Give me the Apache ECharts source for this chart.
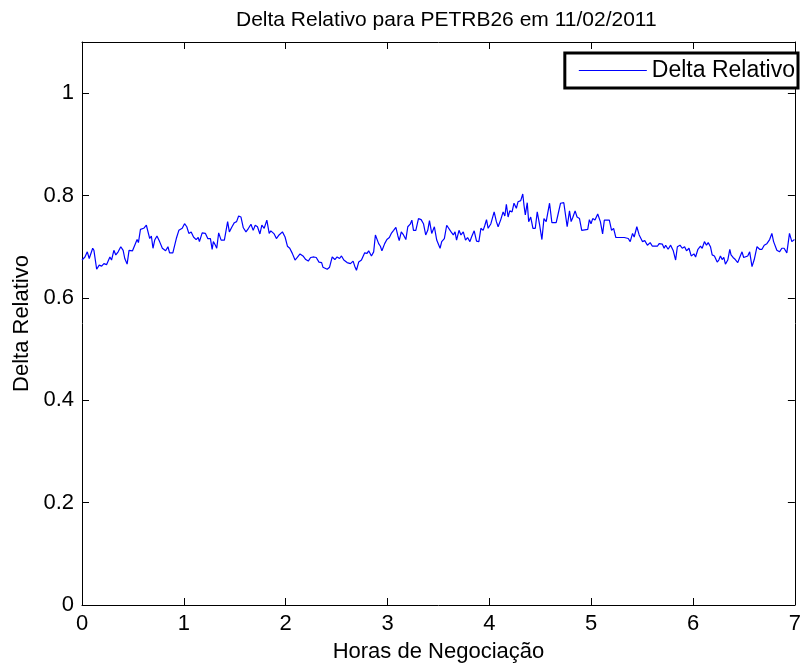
<!DOCTYPE html>
<html><head><meta charset="utf-8">
<script src="https://cdn.jsdelivr.net/npm/echarts@6/dist/echarts.min.js"></script>
<style>html,body{margin:0;padding:0;background:#fff}#c{width:804px;height:670px}</style>
</head><body><div id="c"></div>
<script>
const titleText = 'Delta Relativo para PETRB26 em 11/02/2011';
const xLabel = 'Horas de Negociação';
const yLabel = 'Delta Relativo';
const seriesName = 'Delta Relativo';
const hours = [0.000,0.029,0.052,0.071,0.105,0.117,0.144,0.169,0.193,0.215,0.241,0.274,0.290,0.313,0.332,0.355,0.381,0.404,0.420,0.443,0.462,0.496,0.518,0.541,0.554,0.574,0.606,0.632,0.648,0.665,0.681,0.697,0.714,0.736,0.762,0.789,0.821,0.844,0.860,0.892,0.926,0.951,0.984,1.007,1.029,1.049,1.072,1.095,1.121,1.141,
1.153,1.180,1.212,1.235,1.261,1.278,1.290,1.310,1.323,1.342,1.366,1.398,1.414,1.430,1.447,1.473,1.496,1.518,1.538,1.561,1.584,1.610,1.635,1.659,1.681,1.701,1.723,1.747,1.766,1.789,1.815,1.838,1.854,1.887,1.909,1.935,1.968,1.994,2.017,2.040,2.065,2.092,2.114,2.141,2.170,2.197,2.222,2.245,2.278,2.300,
2.327,2.353,2.366,2.385,2.408,2.431,2.457,2.483,2.505,2.529,2.548,2.571,2.603,2.636,2.662,2.678,2.695,2.717,2.744,2.776,2.799,2.815,2.842,2.864,2.881,2.896,2.913,2.930,2.945,2.972,2.994,3.018,3.037,3.060,3.082,3.102,3.115,3.135,3.157,3.180,3.199,3.223,3.239,3.255,3.278,3.304,3.330,3.353,3.375,3.395,3.412,3.434,3.460,3.483,
3.500,3.516,3.532,3.558,3.581,3.597,3.624,3.646,3.663,3.678,3.702,3.721,3.744,3.766,3.786,3.809,3.825,3.851,3.874,3.897,3.917,3.939,3.956,3.972,3.988,4.015,4.027,4.047,4.069,4.086,4.112,4.135,4.152,4.167,4.184,4.200,4.223,4.242,4.265,4.282,4.308,4.328,4.340,4.353,4.372,4.386,4.406,4.428,4.451,4.470,4.494,4.516,4.536,4.558,4.591,4.614,4.656,
4.673,4.699,4.731,4.764,4.787,4.803,4.819,4.842,4.861,4.885,4.907,4.966,4.982,4.998,5.015,5.037,5.064,5.090,5.112,5.129,5.178,5.200,5.220,5.242,5.325,5.364,5.383,5.406,5.422,5.448,5.471,5.503,5.526,5.552,5.579,5.601,5.650,5.667,5.699,5.716,5.731,5.755,5.780,5.806,5.829,
5.846,5.872,5.894,5.917,5.936,5.960,5.982,6.009,6.025,6.048,6.073,6.090,6.112,6.132,6.149,6.171,6.188,6.210,6.237,6.253,6.269,6.286,6.302,6.318,6.341,6.361,6.373,6.393,6.415,6.439,6.458,6.481,6.497,6.513,6.537,6.556,6.579,6.601,6.628,6.654,6.677,6.699,6.725,6.752,6.774,6.791,6.806,6.823,6.849,6.872,6.894,6.921,6.947,6.970,6.996];
const delta = [0.674,0.680,0.690,0.677,0.697,0.693,0.656,0.664,0.662,0.667,0.665,0.680,0.674,0.693,0.684,0.690,0.700,0.693,0.677,0.666,0.693,0.692,0.703,0.714,0.708,0.734,0.736,0.742,0.739,0.716,0.721,0.697,0.713,0.721,0.710,0.697,0.692,0.700,0.688,0.688,0.716,0.732,0.736,0.745,0.739,0.726,0.729,0.719,0.714,0.718,
0.710,0.727,0.726,0.716,0.716,0.695,0.710,0.703,0.697,0.727,0.713,0.713,0.714,0.749,0.729,0.739,0.747,0.749,0.760,0.758,0.737,0.729,0.736,0.744,0.732,0.742,0.739,0.725,0.742,0.736,0.752,0.726,0.731,0.725,0.716,0.723,0.729,0.719,0.701,0.697,0.687,0.674,0.679,0.686,0.682,0.675,0.672,0.679,0.680,0.679,
0.670,0.669,0.660,0.662,0.656,0.660,0.680,0.675,0.680,0.677,0.682,0.674,0.669,0.667,0.672,0.662,0.654,0.670,0.674,0.688,0.687,0.692,0.682,0.690,0.723,0.723,0.706,0.701,0.692,0.706,0.714,0.718,0.726,0.732,0.738,0.721,0.712,0.729,0.723,0.714,0.739,0.744,0.752,0.732,0.732,0.755,0.753,0.745,0.723,0.732,0.751,0.726,0.739,0.713,
0.710,0.697,0.710,0.716,0.742,0.742,0.729,0.723,0.729,0.713,0.732,0.723,0.729,0.713,0.718,0.710,0.719,0.731,0.711,0.710,0.736,0.732,0.742,0.753,0.736,0.745,0.744,0.768,0.749,0.739,0.753,0.768,0.760,0.783,0.758,0.770,0.768,0.785,0.775,0.788,0.790,0.803,0.781,0.762,0.786,0.749,0.758,0.736,0.736,0.768,0.742,0.714,0.755,0.749,0.785,0.747,0.747,
0.762,0.785,0.786,0.739,0.770,0.749,0.757,0.770,0.758,0.755,0.732,0.734,0.753,0.745,0.755,0.752,0.764,0.749,0.725,0.752,0.752,0.732,0.736,0.718,0.718,0.716,0.710,0.726,0.719,0.739,0.723,0.710,0.712,0.703,0.708,0.701,0.701,0.706,0.705,0.697,0.703,0.695,0.703,0.692,0.674,
0.700,0.703,0.697,0.700,0.692,0.697,0.682,0.686,0.680,0.695,0.701,0.697,0.710,0.703,0.708,0.700,0.684,0.682,0.670,0.674,0.682,0.675,0.679,0.666,0.674,0.695,0.684,0.679,0.675,0.669,0.679,0.690,0.679,0.677,0.682,0.690,0.661,0.675,0.700,0.695,0.695,0.703,0.706,0.714,0.726,0.710,0.712,0.693,0.690,0.697,0.697,0.688,0.726,0.710,0.714];

const font = 'Liberation Sans, Arial, Helvetica, sans-serif';
const axisCommon = {
  axisLine: {show: true, onZero: false, lineStyle: {color: '#000', width: 1}},
  axisTick: {show: true, inside: true, length: 7, lineStyle: {color: '#000'}},
  splitLine: {show: false}
};
const chart = echarts.init(document.getElementById('c'), null, {renderer: 'canvas'});
chart.setOption({
  animation: false,
  backgroundColor: '#fff',
  textStyle: {fontFamily: font},
  title: {text: titleText, left: 231, top: 5, textStyle: {fontFamily: font, fontSize: 21, fontWeight: 'normal', color: '#000'}},
  grid: {left: 82, right: 4, top: 42, bottom: 65, containLabel: false},
  legend: {
    data: [{name: seriesName, icon: 'rect'}],
    right: 6, top: 53, itemWidth: 68, itemHeight: 1, itemGap: 7,
    borderColor: '#000', borderWidth: 3, backgroundColor: '#fff', borderRadius: 0,
    padding: [6, 3, 6, 14],
    textStyle: {fontFamily: font, fontSize: 23, color: '#000'}
  },
  xAxis: [
    Object.assign({type: 'value', min: 0, max: 7, interval: 1, position: 'bottom',
      name: xLabel, nameLocation: 'middle', nameGap: 36,
      nameTextStyle: {fontFamily: font, fontSize: 22, color: '#000'},
      axisLabel: {fontFamily: font, fontSize: 22, color: '#000', margin: 8}}, axisCommon),
    Object.assign({type: 'value', min: 0, max: 7, interval: 1, position: 'top', axisLabel: {show: false}}, axisCommon)
  ],
  yAxis: [
    Object.assign({type: 'value', min: 0, max: 1.1, interval: 0.2, position: 'left',
      name: yLabel, nameLocation: 'middle', nameGap: 48, nameRotate: 90,
      nameTextStyle: {fontFamily: font, fontSize: 22, color: '#000'},
      axisLabel: {fontFamily: font, fontSize: 22, color: '#000', margin: 8, showMaxLabel: false}}, axisCommon),
    Object.assign({type: 'value', min: 0, max: 1.1, interval: 0.2, position: 'right', axisLabel: {show: false}}, axisCommon)
  ],
  series: [{
    name: seriesName, type: 'line', showSymbol: false, symbol: 'none',
    data: hours.map((h, i) => [h, delta[i]]),
    lineStyle: {color: '#0000ff', width: 1.2}, itemStyle: {color: '#0000ff'}
  }]
});
</script></body></html>
